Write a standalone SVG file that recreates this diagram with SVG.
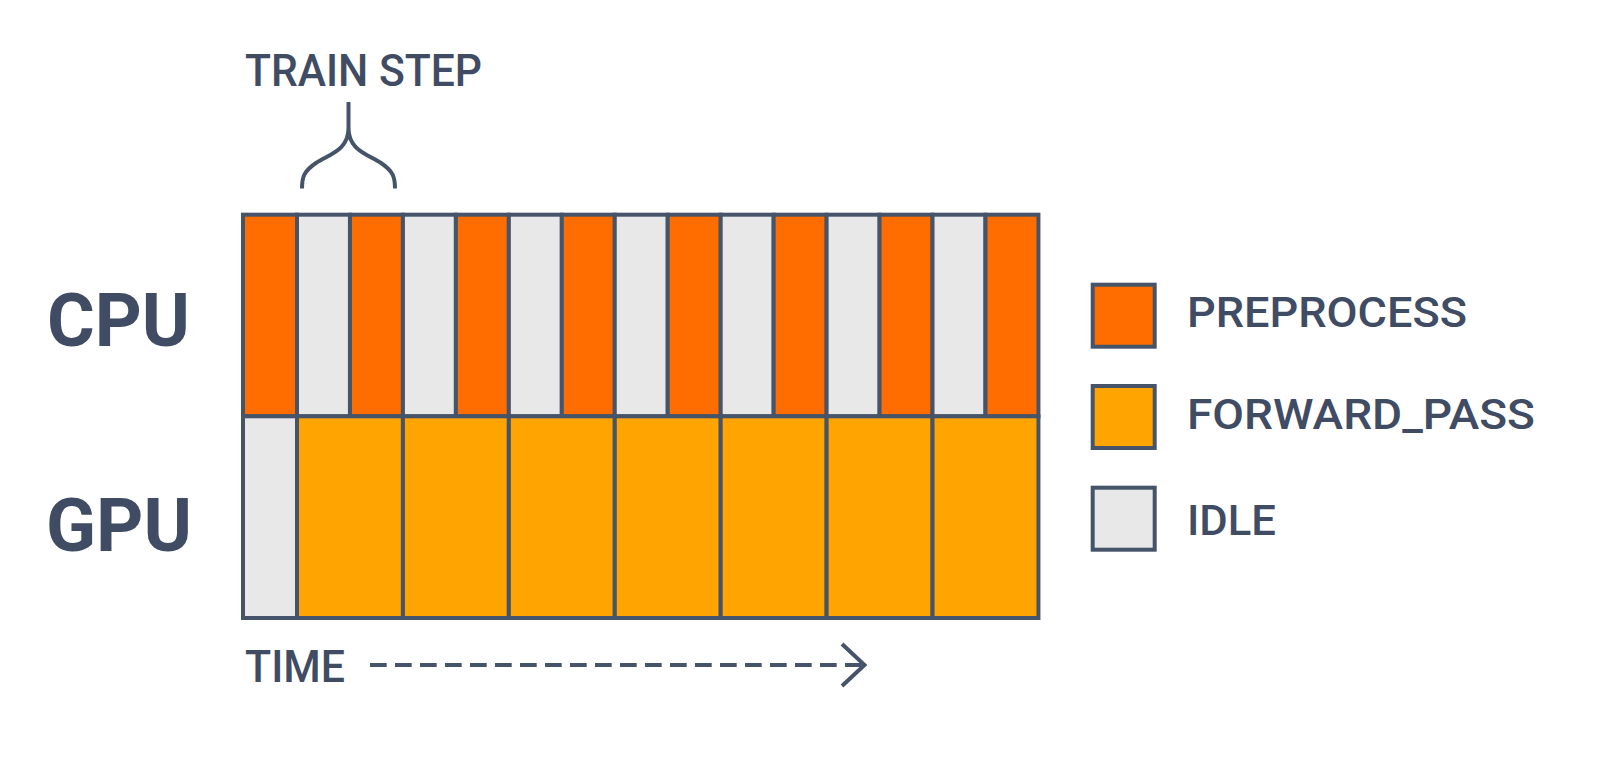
<svg xmlns="http://www.w3.org/2000/svg" width="1600" height="766" viewBox="0 0 1600 766">
<style>
.cell{stroke:#465469;stroke-width:4}
.pre{fill:#FF6D00}
.fwd{fill:#FFA400}
.idle{fill:#E8E8E8}
.t{font-family:Roboto,"Liberation Sans",sans-serif;fill:#3F4C63}
.lbl{font-size:45px;font-weight:500}
.big{font-size:74.5px;font-weight:bold}
.leg{font-size:42px;font-weight:500}
.ln{fill:none;stroke:#465469;stroke-width:4}
</style>
<rect width="1600" height="766" fill="#FFFFFF"/>
<g id="cpu-row">
<rect class="cell pre" x="243" y="214.7" width="54" height="201.6"/>
<rect class="cell idle" x="297" y="214.7" width="52.96" height="201.6"/>
<rect class="cell pre" x="349.96" y="214.7" width="52.96" height="201.6"/>
<rect class="cell idle" x="402.92" y="214.7" width="52.96" height="201.6"/>
<rect class="cell pre" x="455.88" y="214.7" width="52.96" height="201.6"/>
<rect class="cell idle" x="508.84" y="214.7" width="52.96" height="201.6"/>
<rect class="cell pre" x="561.8" y="214.7" width="52.96" height="201.6"/>
<rect class="cell idle" x="614.76" y="214.7" width="52.96" height="201.6"/>
<rect class="cell pre" x="667.72" y="214.7" width="52.96" height="201.6"/>
<rect class="cell idle" x="720.68" y="214.7" width="52.96" height="201.6"/>
<rect class="cell pre" x="773.64" y="214.7" width="52.96" height="201.6"/>
<rect class="cell idle" x="826.6" y="214.7" width="52.96" height="201.6"/>
<rect class="cell pre" x="879.56" y="214.7" width="52.96" height="201.6"/>
<rect class="cell idle" x="932.52" y="214.7" width="52.96" height="201.6"/>
<rect class="cell pre" x="985.48" y="214.7" width="52.96" height="201.6"/>
</g>
<g id="gpu-row">
<rect class="cell idle" x="243" y="416.3" width="54" height="201.7"/>
<rect class="cell fwd" x="297" y="416.3" width="105.92" height="201.7"/>
<rect class="cell fwd" x="402.92" y="416.3" width="105.92" height="201.7"/>
<rect class="cell fwd" x="508.84" y="416.3" width="105.92" height="201.7"/>
<rect class="cell fwd" x="614.76" y="416.3" width="105.92" height="201.7"/>
<rect class="cell fwd" x="720.68" y="416.3" width="105.92" height="201.7"/>
<rect class="cell fwd" x="826.6" y="416.3" width="105.92" height="201.7"/>
<rect class="cell fwd" x="932.52" y="416.3" width="105.92" height="201.7"/>
</g>
<g id="row-labels">
<text class="t big" x="47" y="346" textLength="143" lengthAdjust="spacingAndGlyphs">CPU</text>
<text class="t big" x="46" y="550.5" textLength="146" lengthAdjust="spacingAndGlyphs">GPU</text>
</g>
<g id="train-step">
<text class="t lbl" x="245" y="86" textLength="237" lengthAdjust="spacingAndGlyphs">TRAIN STEP</text>
</g>
<g id="connectors">
<path class="ln" d="M348.5,102 V128 M348.5,128 C348.5,150 330,154 316,163 C304,171 302,177 302,188.5 M348.5,128 C348.5,150 367,154 381,163 C393,171 395,177 395,188.5"/>
<line class="ln" x1="370" y1="665" x2="863" y2="665" stroke-dasharray="16.7 8.3"/>
<path class="ln" d="M842,644 L864.5,665 L842,686"/>
</g>
<g id="time-label">
<text class="t lbl" x="245" y="681.5" font-size="47" textLength="100" lengthAdjust="spacingAndGlyphs">TIME</text>
</g>
<g id="legend-preprocess">
<rect class="cell pre" x="1092.7" y="284.7" width="62" height="62"/>
<text class="t leg" x="1187" y="326.7" textLength="280" lengthAdjust="spacingAndGlyphs">PREPROCESS</text>
</g>
<g id="legend-forward">
<rect class="cell fwd" x="1092.7" y="386" width="62" height="62"/>
<text class="t leg" x="1187" y="429.3" textLength="348" lengthAdjust="spacingAndGlyphs">FORWARD_PASS</text>
</g>
<g id="legend-idle">
<rect class="cell idle" x="1092.7" y="487.7" width="62" height="62"/>
<text class="t leg" x="1187" y="535" textLength="89" lengthAdjust="spacingAndGlyphs">IDLE</text>
</g>
</svg>
